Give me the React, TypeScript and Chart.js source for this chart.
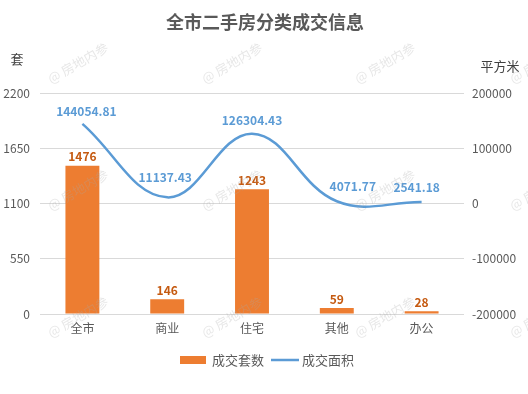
import React, { useEffect, useRef } from "react";
import { Chart, registerables } from "chart.js";

Chart.register(...registerables);

const categories = ["全市", "商业", "住宅", "其他", "办公"];
const unitCounts = [1476, 146, 1243, 59, 28];
const areaValues = [144054.81, 11137.43, 126304.43, 4071.77, 2541.18];
const areaLabels = ["144054.81", "11137.43", "126304.43", "4071.77", "2541.18"];
const leftTicks = [0, 550, 1100, 1650, 2200];
const rightTicks = [-200000, -100000, 0, 100000, 200000];

const FONT = "'Noto Sans CJK SC', 'Microsoft YaHei', sans-serif";
const ORANGE = "#ED7D31";
const BLUE = "#5B9BD5";

// label nudges (px) for the line labels, as placed in the reference
const lineLabelDx = [4, -2, 0, 16, -5];
const lineLabelDy = [-12, -20, -13, -15, -15];

const decorPlugin = {
  id: "decor",
  afterDatasetsDraw(chart: any) {
    const ctx = chart.ctx;
    ctx.save();
    const barMeta = chart.getDatasetMeta(0);
    ctx.font = `bold 12px ${FONT}`;
    ctx.textAlign = "center";
    ctx.textBaseline = "bottom";
    ctx.fillStyle = "#C55A11";
    barMeta.data.forEach((el: any, i: number) => {
      ctx.fillText(String(unitCounts[i]), el.x, el.y - 3);
    });
    const lineMeta = chart.getDatasetMeta(1);
    ctx.fillStyle = BLUE;
    ctx.textBaseline = "middle";
    lineMeta.data.forEach((el: any, i: number) => {
      ctx.fillText(areaLabels[i], el.x + lineLabelDx[i], el.y + lineLabelDy[i]);
    });
    ctx.restore();
  },
  afterDraw(chart: any) {
    const ctx = chart.ctx;
    ctx.save();
    ctx.fillStyle = "#595959";
    ctx.font = `bold 18px ${FONT}`;
    ctx.textAlign = "center";
    ctx.textBaseline = "middle";
    ctx.fillText("全市二手房分类成交信息", 265, 22);
    ctx.font = `13px ${FONT}`;
    ctx.fillStyle = "#404040";
    ctx.fillText("套", 17, 59);
    ctx.fillText("平方米", 500, 66);
    const ly = 360;
    ctx.fillStyle = ORANGE;
    ctx.fillRect(180, ly - 4, 26, 8);
    ctx.font = `13px ${FONT}`;
    ctx.fillStyle = "#595959";
    ctx.textAlign = "left";
    ctx.fillText("成交套数", 212, ly);
    ctx.strokeStyle = BLUE;
    ctx.lineWidth = 2.5;
    ctx.beginPath();
    ctx.moveTo(271, ly);
    ctx.lineTo(299, ly);
    ctx.stroke();
    ctx.fillText("成交面积", 302, ly);
    ctx.font = `13px ${FONT}`;
    ctx.fillStyle = "rgba(170,170,170,0.28)";
    ctx.textAlign = "center";
    const xs = [78, 232, 385, 540];
    const ys = [63, 190, 317];
    ys.forEach((y) => {
      xs.forEach((x) => {
        ctx.save();
        ctx.translate(x, y);
        ctx.rotate(-Math.PI / 6);
        ctx.fillText("@ 房地内参", 0, 0);
        ctx.restore();
      });
    });
    ctx.restore();
  },
};

export default function App() {
  const ref = useRef<HTMLCanvasElement>(null);
  useEffect(() => {
    document.body.style.margin = "0";
    const chart = new Chart(ref.current!, {
      type: "bar",
      data: {
        labels: categories,
        datasets: [
          {
            type: "bar",
            label: "成交套数",
            data: unitCounts,
            backgroundColor: ORANGE,
            yAxisID: "y",
            barPercentage: 0.5,
            categoryPercentage: 0.8,
            order: 1,
          },
          {
            type: "line",
            label: "成交面积",
            data: areaValues,
            borderColor: BLUE,
            borderWidth: 2.5,
            pointRadius: 0,
            tension: 0.4,
            yAxisID: "y1",
            order: 0,
          } as any,
        ],
      },
      options: {
        animation: false,
        responsive: true,
        maintainAspectRatio: false,
        layout: { padding: { top: 93, bottom: 0, left: 0, right: 0 } },
        plugins: {
          legend: { display: false },
          title: { display: false },
          tooltip: { enabled: false },
        },
        scales: {
          x: {
            grid: { display: false, drawTicks: false },
            border: { display: false },
            ticks: { color: "#595959", font: { size: 12, family: FONT }, padding: 7 },
            afterFit: (s: any) => {
              s.height = 80;
            },
          },
          y: {
            position: "left",
            min: 0,
            max: 2200,
            afterBuildTicks: (s: any) => {
              s.ticks = leftTicks.map((v) => ({ value: v }));
            },
            grid: { color: "#d9d9d9", drawTicks: false },
            border: { display: false },
            ticks: {
              color: "#595959",
              font: { size: 12, family: FONT },
              padding: 10,
              callback: (v: any) => String(v),
            },
            afterFit: (s: any) => {
              s.width = 40;
            },
          },
          y1: {
            position: "right",
            min: -200000,
            max: 200000,
            afterBuildTicks: (s: any) => {
              s.ticks = rightTicks.map((v) => ({ value: v }));
            },
            grid: { display: false, drawTicks: false },
            border: { display: false },
            ticks: {
              color: "#595959",
              font: { size: 12, family: FONT },
              padding: 8,
              callback: (v: any) => String(v),
            },
            afterFit: (s: any) => {
              s.width = 64;
            },
          },
        },
      },
      plugins: [decorPlugin],
    });
    return () => chart.destroy();
  }, []);
  return (
    <div style={{ position: "absolute", left: 0, top: 0, width: 528, height: 394 }}>
      <canvas ref={ref} />
    </div>
  );
}
